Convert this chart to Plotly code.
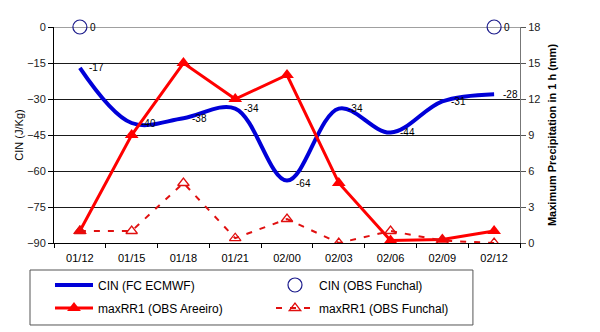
import plotly.graph_objects as go

# Forecast/observation times
times = ["01/12", "01/15", "01/18", "01/21", "02/00", "02/03", "02/06", "02/09", "02/12"]

# CIN forecast (J/Kg), ECMWF
cin_fc = [-17, -40, -38, -34, -64, -34, -44, -31, -28]

# CIN observed at Funchal (only two soundings)
cin_obs_times = ["01/12", "02/12"]
cin_obs = [0, 0]

# Maximum 1 h precipitation (mm)
rr_areeiro = [1, 9, 15, 12, 14, 5, 0.2, 0.3, 1]
rr_funchal = [1, 1, 5, 0.4, 2, 0, 1, 0.2, 0]

FONT = "Liberation Sans, Arial, sans-serif"
BLUE = "#0000d8"
RED = "#ff0000"
DRED = "#e01010"

fig = go.Figure()

fig.add_trace(go.Scatter(
    x=times, y=cin_fc, name="CIN (FC ECMWF)", legend="legend",
    mode="lines",
    line=dict(color=BLUE, width=4, shape="spline", smoothing=1.0),
))

fig.add_trace(go.Scatter(
    x=cin_obs_times, y=cin_obs, name="CIN (OBS Funchal)", legend="legend",
    mode="markers", cliponaxis=False,
    marker=dict(symbol="circle-open", size=14, color="#1c1c8c", line=dict(width=1.2)),
))

fig.add_trace(go.Scatter(
    x=times, y=rr_areeiro, name="maxRR1 (OBS Areeiro)", legend="legend2",
    yaxis="y2", mode="lines+markers",
    line=dict(color=RED, width=3),
    marker=dict(symbol="triangle-up", size=12, color=RED),
))

fig.add_trace(go.Scatter(
    x=times, y=rr_funchal, name="maxRR1 (OBS Funchal)", legend="legend2",
    yaxis="y2", mode="lines+markers",
    line=dict(color=DRED, width=2, dash="6px,8px"),
    marker=dict(symbol="triangle-up-open", size=10, color=DRED, line=dict(width=1.3)),
))

# Value labels next to the CIN points
labels = []
for t, v in zip(times, cin_fc):
    labels.append(dict(x=t, y=v, xref="x", yref="y", text=str(v), showarrow=False,
                       xanchor="left", yanchor="middle", xshift=7,
                       yshift=-3 if v == -64 else 0,
                       font=dict(family=FONT, size=10, color="black")))
for t, v in zip(cin_obs_times, cin_obs):
    labels.append(dict(x=t, y=v, xref="x", yref="y", text=str(v), showarrow=False,
                       xanchor="left", yanchor="middle", xshift=8,
                       font=dict(family=FONT, size=10, color="black")))

legend_common = dict(
    orientation="h", xref="paper", yref="paper", xanchor="left", yanchor="middle",
    entrywidthmode="pixels", entrywidth=168, itemwidth=38,
    borderwidth=0, bgcolor="rgba(0,0,0,0)",
    font=dict(family=FONT, size=12, color="black"),
    traceorder="normal",
)

fig.update_layout(
    width=600, height=332,
    margin=dict(l=54, r=80, t=27, b=89, autoexpand=False),
    paper_bgcolor="white", plot_bgcolor="white",
    font=dict(family=FONT, size=11, color="black"),
    annotations=labels,
    shapes=[dict(type="rect", xref="paper", yref="paper",
                 x0=-0.0515, x1=0.899, y0=-0.3796, y1=-0.125,
                 line=dict(color="#555", width=1), fillcolor="rgba(0,0,0,0)")],
    xaxis=dict(
        type="category", tickson="boundaries", ticks="outside", ticklen=4,
        tickcolor="black", showline=True, linecolor="black", linewidth=1,
        showgrid=False, tickfont=dict(size=11), range=[-0.5, 8.5],
        ticklabelstandoff=5,
    ),
    yaxis=dict(
        range=[-90, 0], dtick=15, ticks="outside", ticklen=5, tickcolor="black",
        showline=True, linecolor="black", linewidth=1,
        showgrid=True, gridcolor="#1a1a1a", gridwidth=1,
        zeroline=True, zerolinecolor="#a0a0a0", zerolinewidth=1,
        tickfont=dict(size=11, color="#222"),
        title=dict(text="CIN (J/Kg)", font=dict(size=11), standoff=1),
    ),
    yaxis2=dict(
        overlaying="y", side="right", range=[0, 18], dtick=3,
        ticks="outside", ticklen=5, tickcolor="#555",
        showline=True, linecolor="#777", linewidth=1, showgrid=False, zeroline=False,
        tickfont=dict(size=11, color="#222"),
        title=dict(text="<b>Maximum Precipitation in 1 h (mm)</b>", font=dict(size=11), standoff=8),
    ),
    legend=dict(legend_common, x=-0.0086, y=-0.1944),
    legend2=dict(legend_common, x=-0.0086, y=-0.3009),
    showlegend=True,
)

fig.write_html("out.html")
